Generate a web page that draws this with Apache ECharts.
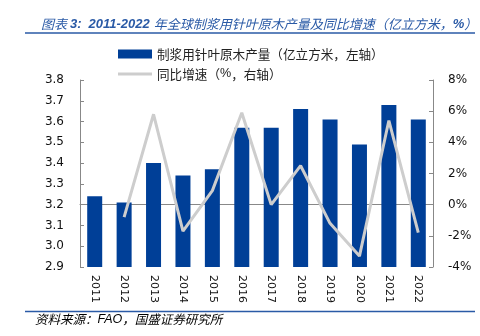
<!DOCTYPE html>
<html><head><meta charset="utf-8">
<script src="https://cdn.jsdelivr.net/npm/echarts@6/dist/echarts.min.js"></script>
<style>html,body{margin:0;padding:0;background:#fff}#c{width:480px;height:336px}</style>
</head><body><div id="c"></div>
<script>
const years = ['2011','2012','2013','2014','2015','2016','2017','2018','2019','2020','2021','2022'];
const output = [3.24, 3.21, 3.40, 3.34, 3.37, 3.57, 3.57, 3.66, 3.61, 3.49, 3.68, 3.61];
const growth = [null, -0.8, 5.8, -1.7, 0.9, 5.9, 0.0, 2.5, -1.2, -3.3, 5.4, -1.8];
const leftTicks = [2.9, 3.8, 0.1];
const rightTicks = [-4, 8, 2];
const barName = '制浆用针叶原木产量（亿立方米，左轴）';
const lineName = '同比增速（%，右轴）';
const titleText = '图表 3: 2011-2022 年全球制浆用针叶原木产量及同比增速（亿立方米，%）';
const sourceText = '资料来源：FAO，国盛证券研究所';

const blue = '#003f97';
const navy = '#2a5aa6';
const font = 'DejaVu Sans';
const cjk = '"Noto Sans CJK SC", "DejaVu Sans"';
const PUNCT = '（），：';
// wrap full-width punctuation, spaces and Latin runs so they keep their widths
function toRich(s) {
  let out = '', run = '', kind = null, sp = 0;
  const flush = () => { if (run) out += '{' + kind + '|' + run + '}'; run = ''; };
  for (const ch of s) {
    if (ch === ' ') { flush(); out += '{s' + (sp++) + '| }'; kind = null; continue; }
    let k = PUNCT.includes(ch) ? 'p' : (/[\x21-\x7e]/.test(ch) ? 'b' : 'c');
    if (k === 'p') { flush(); kind = 'p'; run = ch; flush(); kind = null; continue; }
    if (k !== kind) { flush(); kind = k; }
    run += ch;
  }
  flush();
  return out;
}
function richSet(size, color, italic, latinBold, spaces) {
  const st = italic ? 'italic' : 'normal';
  const r = {
    c: {fontFamily: cjk, fontSize: size, color: color, fontStyle: st, fontWeight: 'normal'},
    p: {fontFamily: cjk, fontSize: size, color: color, fontStyle: st, fontWeight: 'normal', width: size, align: 'center'},
    b: {fontFamily: '"Liberation Sans", "DejaVu Sans"', fontSize: size, color: color, fontStyle: st,
        fontWeight: latinBold ? 'bold' : 'normal'}
  };
  (spaces || [4, 4, 4]).forEach((w, i) => { r['s' + i] = {fontSize: size, width: w}; });
  return r;
}
const chart = echarts.init(document.getElementById('c'), null, {renderer:'canvas'});
chart.setOption({
  animation: false,
  title: {
    text: toRich(titleText), left: 36, top: 13,
    textStyle: {fontSize: 13, fontWeight: 'normal', rich: richSet(13, navy, true, true, [3, 7, 4])}
  },
  legend: [
    {data: [barName], left: 113, top: 41, itemWidth: 34, itemHeight: 9, icon: 'rect',
     formatter: n => toRich(n),
     textStyle: {fontSize: 12.6, lineHeight: 16, rich: richSet(12.6, '#222', false, false)}},
    {data: [lineName], left: 113, top: 61, itemWidth: 34, itemHeight: 3, icon: 'rect',
     formatter: n => toRich(n),
     textStyle: {fontSize: 12.6, lineHeight: 16, rich: richSet(12.6, '#222', false, false)}}
  ],
  grid: {left: 80, right: 47, top: 80, bottom: 69},
  xAxis: {
    type: 'category', data: years, boundaryGap: true,
    axisLine: {lineStyle: {color: '#888'}},
    axisTick: {inside: true, length: 4, lineStyle: {color: '#888'}},
    axisLabel: {rotate: -90, margin: 8, fontFamily: font, fontSize: 11, color: '#111'}
  },
  yAxis: [
    {type: 'value', min: leftTicks[0], max: leftTicks[1], interval: leftTicks[2],
     axisLine: {show: true, lineStyle: {color: '#888'}},
     axisTick: {show: true, inside: true, length: 4, lineStyle: {color: '#888'}},
     splitLine: {show: false},
     axisLabel: {formatter: v => v.toFixed(1), fontFamily: font, fontSize: 12, color: '#111', margin: 16}},
    {type: 'value', min: rightTicks[0], max: rightTicks[1], interval: rightTicks[2], position: 'right',
     axisLine: {show: true, lineStyle: {color: '#888'}},
     axisTick: {show: true, inside: true, length: 4, lineStyle: {color: '#888'}},
     splitLine: {show: false},
     axisLabel: {formatter: '{value}%', fontFamily: font, fontSize: 12, color: '#111', margin: 15}}
  ],
  series: [
    {name: barName, type: 'bar', data: output, barWidth: '51%', yAxisIndex: 0,
     itemStyle: {color: blue}},
    {name: lineName, type: 'line', data: growth, yAxisIndex: 1, showSymbol: false, symbol: 'none',
     connectNulls: false, itemStyle: {color: '#cdcdcd'}, lineStyle: {color: '#cdcdcd', width: 3}}
  ],
  graphic: [
    {type: 'line', shape: {x1: 25, y1: 33, x2: 475, y2: 33}, style: {stroke: navy, lineWidth: 1.5}},
    {type: 'line', shape: {x1: 25, y1: 311.5, x2: 475, y2: 311.5}, style: {stroke: navy, lineWidth: 1.5}},
    {type: 'text', left: 35, top: 313, style: {text: toRich(sourceText), fontSize: 12.5,
      rich: richSet(12.5, navy, true, false)}}
  ]
});
</script></body></html>
